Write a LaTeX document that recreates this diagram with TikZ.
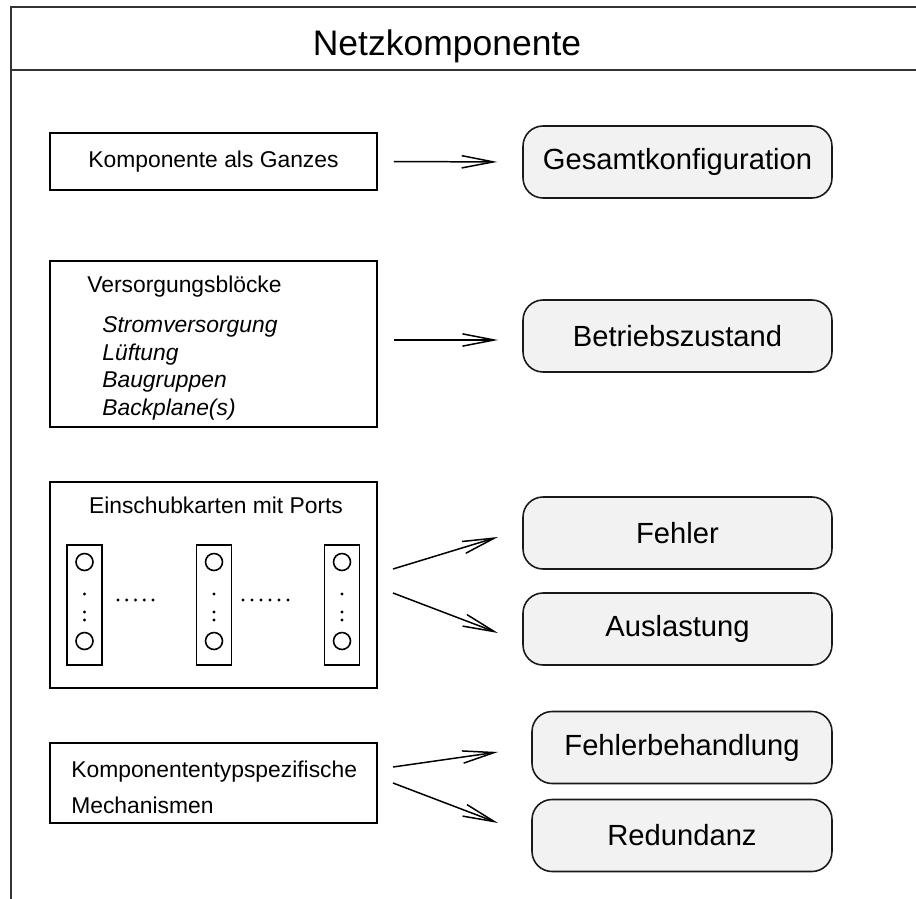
\documentclass[tikz,border=0pt]{standalone}
\usepackage{fontspec}
\setmainfont{Liberation Sans}
\usetikzlibrary{arrows.meta}
\begin{document}
\begin{tikzpicture}[x=0.02cm,y=-0.02cm]
\tikzstyle{block}=[draw=black,line width=0.9pt,minimum width=6.54cm,inner sep=0pt,font=\fontsize{13}{15}\selectfont]
\tikzstyle{statebox}=[draw=black!90,fill=black!5,line width=0.9pt,rounded corners=0.4cm,minimum width=6.18cm,minimum height=1.44cm,inner sep=0pt,font=\fontsize{16.6}{19}\selectfont]
\tikzstyle{txt}=[inner sep=0pt,font=\fontsize{13}{15}\selectfont]
\tikzstyle{card}=[draw=black,line width=0.9pt,minimum width=0.7cm,minimum height=2.4cm,inner sep=0pt]
\tikzstyle{port}=[draw=black,circle,line width=0.9pt,minimum size=0.34cm,inner sep=0pt]
\tikzstyle{flow}=[-{Straight Barb[length=18pt,width=7pt]},line width=0.85pt]

\useasboundingbox (0,0) rectangle (916,899);

% frame and title
\draw[line width=1.2pt,draw=black!80] (916,7) -- (11,7) -- (11,899);
\draw[line width=1.2pt,draw=black!80] (11,70) -- (916,70);
\node[anchor=base,inner sep=0pt,font=\fontsize{20.2}{24}\selectfont] (title) at (447,55) {Netzkomponente};

% left column
\node[block,minimum height=1.14cm] (ganzes) at (213.5,161.5) {Komponente als Ganzes};

\node[block,minimum height=3.32cm] (versorgung) at (213.5,344) {};
\node[txt,anchor=base west] (versorgungTitle) at (87,292) {Versorgungsblöcke};
\node[txt,anchor=base west,font=\fontsize{13}{15}\selectfont\itshape] (strom) at (102,332) {Stromversorgung};
\node[txt,anchor=base west,font=\fontsize{13}{15}\selectfont\itshape] (lueftung) at (102,360) {Lüftung};
\node[txt,anchor=base west,font=\fontsize{13}{15}\selectfont\itshape] (baugruppen) at (102,387) {Baugruppen};
\node[txt,anchor=base west,font=\fontsize{13}{15}\selectfont\itshape] (backplane) at (102,415) {Backplane(s)};

\node[block,minimum height=4.12cm] (einschub) at (213.5,585) {};
\node[txt,anchor=base] (einschubTitle) at (216,513) {Einschubkarten mit Ports};
\foreach \n/\x in {1/84.5,2/214,3/342} {
  \node[card] (card\n) at (\x,605) {};
  \node[port] (port\n top) at (\x,562) {};
  \node[port] (port\n bottom) at (\x,641) {};
  \fill (\x,594) circle (1.7) (\x,612) circle (1.7) (\x,620) circle (1.7);
}
\foreach \x in {118,126.75,...,154} \fill (\x,600) circle (1.7);
\foreach \x in {243,252,...,289} \fill (\x,600) circle (1.7);

\node[block,minimum height=1.6cm] (mechanismen) at (213.5,783) {};
\node[txt,anchor=base west] (mechTyp) at (71,777) {Komponententypspezifische};
\node[txt,anchor=base west] (mechName) at (71,813) {Mechanismen};

% right column
\node[statebox] (gesamt) at (677.5,162) {Gesamtkonfiguration};
\node[statebox] (betrieb) at (677.5,336) {Betriebszustand};
\node[statebox] (fehler) at (677.5,533) {Fehler};
\node[statebox] (auslastung) at (677.5,629) {Auslastung};
\node[statebox,minimum width=6cm] (behandlung) at (682,747.5) {Fehlerbehandlung};
\node[statebox,minimum width=6cm] (redundanz) at (682,835.5) {Redundanz};

% arrows
\coordinate (betriebIn) at (523,340);
\coordinate (karteOutA) at (393,569);
\coordinate (fehlerIn) at (498,537);
\coordinate (karteOutB) at (393,593);
\coordinate (auslastungIn) at (498,633);
\coordinate (mechOutA) at (393,767);
\coordinate (behandlungIn) at (498,752);
\coordinate (mechOutB) at (393,783);
\coordinate (redundanzIn) at (498,823);

\draw[flow,shorten <=0.32cm,shorten >=0.5cm] (ganzes.east) -- (gesamt.west);
\draw[flow,shorten <=0.32cm,shorten >=0.5cm] (versorgung.east |- betriebIn) -- (betriebIn);
\draw[flow] (karteOutA) -- (fehlerIn);
\draw[flow] (karteOutB) -- (auslastungIn);
\draw[flow] (mechOutA) -- (behandlungIn);
\draw[flow] (mechOutB) -- (redundanzIn);

\end{tikzpicture}
\end{document}
